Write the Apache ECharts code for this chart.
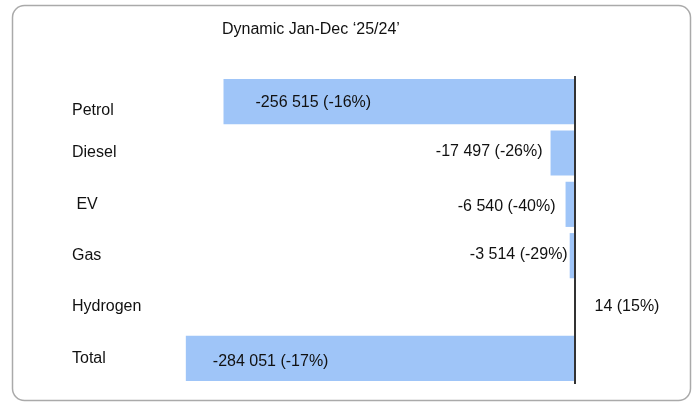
<!DOCTYPE html>
<html><head><meta charset="utf-8">
<script src="https://cdn.jsdelivr.net/npm/echarts@6/dist/echarts.min.js"></script>
<style>html,body{margin:0;padding:0;background:#fff}#c{width:697px;height:403px}</style>
</head><body><div id="c"></div>
<script>
const categories = ['Petrol', 'Diesel', ' EV', 'Gas', 'Hydrogen', 'Total'];
const values = [-256515, -17497, -6540, -3514, 14, -284051];
const percents = [-16, -26, -40, -29, 15, -17];
const titleText = 'Dynamic Jan-Dec \u201825/24\u2019';

const FONT = 'Arial, "Liberation Sans", sans-serif';
function fmt(v){
  const s = Math.abs(v).toString().replace(/\B(?=(\d{3})+(?!\d))/g, ' ');
  return (v < 0 ? '-' : '') + s;
}
const labelCfg = [
  {position:'insideLeft', distance:32, offset:[0,1]},
  {position:'left', distance:8, offset:[0,-1]},
  {position:'left', distance:10, offset:[0,2]},
  {position:'left', distance:2, offset:[0,-1]},
  {position:'right', distance:20, offset:[0,0]},
  {position:'insideLeft', distance:27, offset:[0,3]}
];
const seriesData = values.map((v,i)=>({
  value: v,
  label: Object.assign({show:true}, labelCfg[i])
}));
const catData = categories.map((c,i)=> i===0 ? {value:c, textStyle:{align:'left', verticalAlign:'top', padding:[1,0,0,0]}} : c);

const chart = echarts.init(document.getElementById('c'));
chart.setOption({
  animation:false,
  backgroundColor:'#fff',
  textStyle:{fontFamily:FONT},
  title:{text:titleText, left:217, top:17, textStyle:{fontSize:16, fontWeight:'normal', color:'#111', fontFamily:FONT}},
  graphic:[{type:'rect', shape:{x:12.5, y:5.5, width:678, height:395, r:12}, style:{fill:'none', stroke:'#aaaaaa', lineWidth:1.5}, silent:true}],
  grid:{left:164, right:122.5, top:76, height:308},
  xAxis:{type:'value', min:-300000, max:0, show:false},
  yAxis:{type:'category', inverse:true, data:catData,
    axisLine:{show:false}, axisTick:{show:false}, splitLine:{show:false},
    axisLabel:{align:'left', margin:92, fontSize:16, color:'#111', fontFamily:FONT}},
  series:[{type:'bar', data:seriesData, clip:false, barCategoryGap:'12%',
    itemStyle:{color:'#9fc5f8'},
    label:{show:true, fontSize:16, color:'#111', fontFamily:FONT,
      formatter:p=>fmt(values[p.dataIndex]) + ' (' + percents[p.dataIndex] + '%)'},
    markLine:{silent:true, symbol:'none', label:{show:false},
      lineStyle:{color:'#333', width:2, type:'solid'}, data:[{xAxis:0}]}
  }]
});
</script></body></html>
